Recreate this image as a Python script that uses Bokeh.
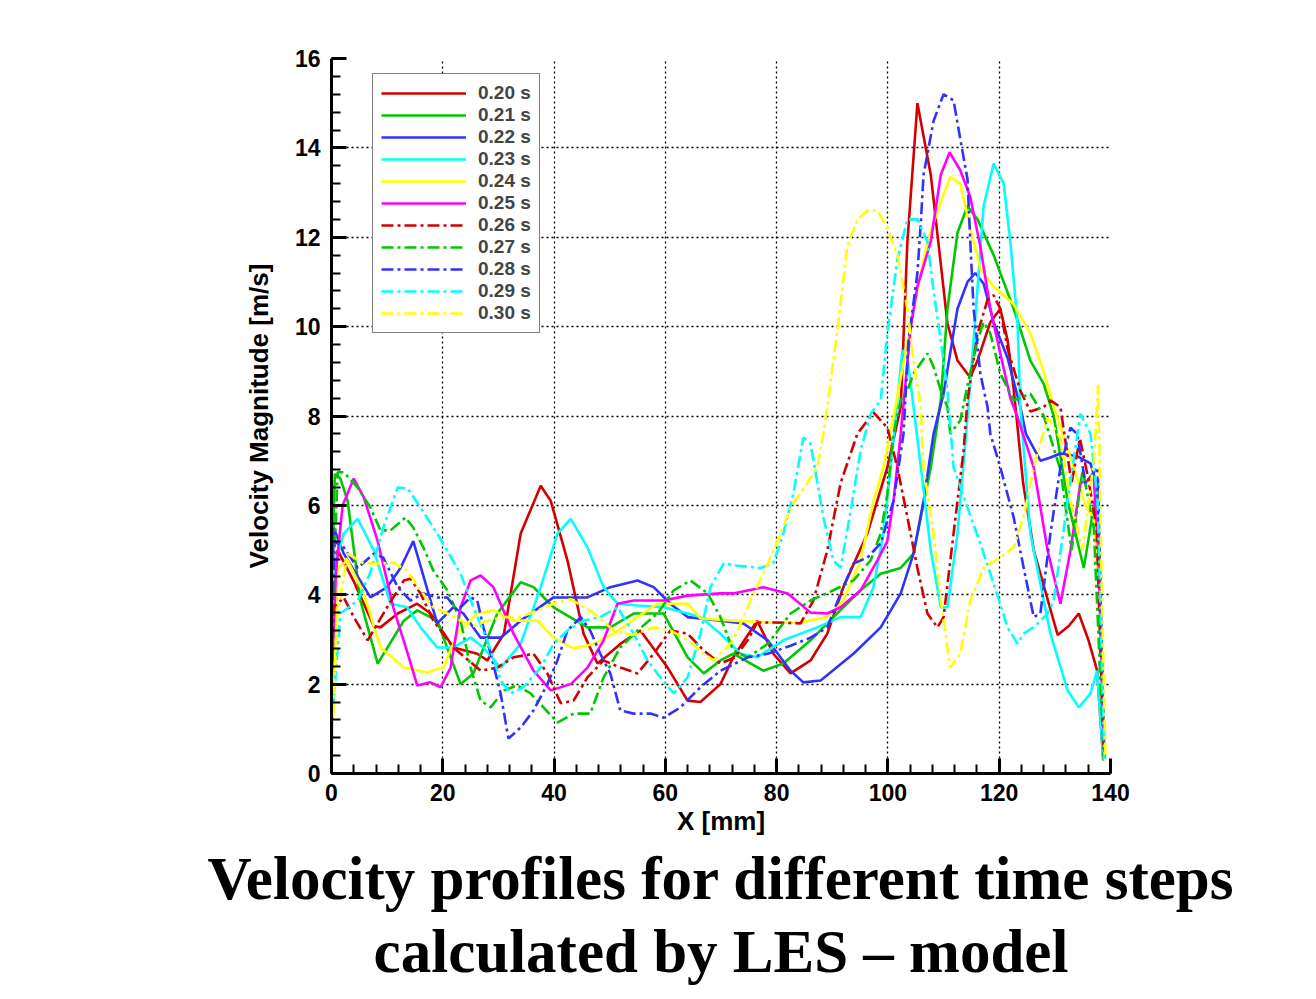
from bokeh.plotting import figure
from bokeh.models import Range1d, Legend, LegendItem, Title, FixedTicker
from bokeh.embed import file_html
from bokeh.resources import INLINE

# ---- data (x [mm], velocity magnitude [m/s]) ----
labels = ["0.20 s", "0.21 s", "0.22 s", "0.23 s", "0.24 s", "0.25 s",
          "0.26 s", "0.27 s", "0.28 s", "0.29 s", "0.30 s"]

t020 = [(0,3.5),(1.1,5.0),(4,4.3),(7.6,3.3),(8.8,3.27),(11.9,3.58),(15.4,3.8),(17.8,3.58),
        (21.9,2.82),(26.2,2.68),(28,2.53),(31,3.13),(34,5.37),(37.6,6.44),(39.4,6.1),(42.4,4.77),
        (45.3,3.13),(47.8,2.46),(51.9,2.9),(55.5,3.2),(60.4,2.37),(64,1.63),(66.3,1.6),(69.9,2.0),
        (72.2,2.6),(76.5,3.42),(79.4,2.68),(82.5,2.24),(86.1,2.53),(89.1,3.13),(92,4.17),(96.3,5.37),
        (99.9,6.85),(102.3,8.2),(103.5,11.9),(105.3,15.0),(107.7,13.4),(110.7,10.07),(112.5,9.24),
        (114.8,8.86),(116.1,9.24),(118.4,10.1),(120.2,10.4),(121.5,9.7),(122.6,8.6),(124.3,6.5),
        (126.2,5.0),(130.5,3.1),(132.5,3.3),(134.3,3.58),(136,3.0),(137.6,2.3),(138.7,0.3)]

t021 = [(0,4.0),(0.6,6.7),(1.6,6.6),(2.9,6.1),(5.2,3.87),(8.3,2.46),(13,3.42),(15.4,3.65),(19,3.42),
        (23.2,2.0),(25.5,2.24),(29.8,3.58),(34,4.28),(36.3,4.17),(39.9,3.72),(46,3.27),(50.1,3.27),
        (54.3,3.58),(59.7,3.58),(64,2.6),(66.9,2.24),(69.9,2.53),(72.2,2.68),(77.6,2.3),(81.2,2.46),
        (86.1,2.98),(90.2,3.5),(95.1,4.1),(98.7,4.47),(102.3,4.6),(104.6,4.92),(107.7,6.85),(109.5,8.35),
        (110.7,10.4),(112.5,12.1),(114.3,12.7),(116.1,12.4),(119,11.6),(122.6,10.4),(125.6,9.24),
        (128,8.72),(129.8,8.0),(132.3,6.1),(135.2,4.6),(137.7,6.5),(138.8,0.3)]

t022 = [(0,3.0),(0.4,5.5),(2.2,4.92),(7,3.94),(10,4.17),(12.4,4.6),(14.7,5.2),(17.8,3.87),(19,3.36),
        (21.9,3.72),(23.7,3.58),(26.8,3.04),(30.4,3.04),(34,3.42),(39.9,3.94),(46,3.94),(50.1,4.17),
        (55,4.32),(57.9,4.17),(60.9,3.8),(64,3.5),(69.9,3.42),(74,3.36),(78.4,2.98),(82.5,2.3),
        (84.8,2.04),(87.9,2.08),(93.8,2.68),(98.7,3.27),(102.3,4.03),(104.6,4.92),(106.4,6.1),
        (108.2,7.6),(110,8.5),(112.5,10.4),(114.3,11.0),(115.7,11.2),(117.2,10.96),(119,10.1),
        (121.5,9.3),(123.8,8.2),(124.8,7.6),(127.4,7.0),(129.2,7.07),(131,7.16),(134,7.1),(136.4,6.94),
        (137.7,6.4),(138.8,0.3)]

t023 = [(0,1.5),(0.4,4.6),(2.2,5.37),(4.7,5.7),(7.6,4.99),(10.6,3.8),(13.6,3.72),(16,3.27),(19,2.82),
        (21.9,2.82),(25,3.04),(27.3,2.82),(30.4,2.37),(34,2.9),(37.6,4.17),(40.6,5.37),(43,5.7),
        (46,5.06),(48.9,4.17),(51.4,3.8),(55,3.76),(59.7,3.72),(64,3.58),(66.3,3.5),(69.9,3.13),
        (73.5,2.68),(76.5,2.6),(81.2,2.98),(87.3,3.27),(91.5,3.5),(95.1,3.5),(97.4,4.17),(99.2,5.37),
        (100.5,6.85),(101.7,8.35),(102.6,9.47),(103.5,9.3),(105.3,7.5),(107.7,4.99),(109.5,3.72),
        (110.7,3.72),(112.5,5.37),(114.3,7.97),(115.4,9.69),(117.2,12.7),(119,13.65),(120.8,13.2),
        (122,11.9),(123.3,10.07),(123.8,8.2),(125.6,5.37),(129.2,3.13),(132.3,1.86),(134.3,1.48),
        (136.4,1.79),(137.6,2.3),(138.7,0.3)]

t024 = [(0,0.3),(1.1,4.6),(2.9,4.77),(5.8,4.03),(8.8,2.82),(13,2.37),(17.2,2.26),(20.1,2.37),
        (22.6,3.13),(26.2,3.58),(29.1,3.65),(32.7,3.42),(37,3.42),(39.9,3.04),(43.5,2.8),(47.1,2.9),
        (50.7,3.13),(55,3.5),(58.6,3.8),(64,3.8),(66.3,3.47),(72.2,3.42),(78.4,3.38),(84.3,3.38),
        (89.1,3.5),(92,3.87),(95.1,4.77),(97.4,6.1),(99.2,6.85),(101,7.97),(104.1,10.07),(107.1,11.9),
        (109.5,12.8),(111.2,13.35),(113,13.2),(114.8,12.2),(116.6,11.3),(119,10.9),(122.6,10.5),
        (125.6,9.85),(128,9.0),(129.8,8.2),(133,7.0),(135.5,6.0),(137,5.7),(138,4.0),(139,0.3)]

t025 = [(0,2.0),(0.8,4.5),(2,6.0),(4,6.6),(5.8,6.18),(8.3,5.2),(11.1,3.72),(13.7,2.68),(15.4,1.97),
        (17.8,2.04),(19.6,1.93),(21.4,2.37),(23.2,3.72),(25,4.32),(26.8,4.43),(29.1,4.17),(32.7,3.13),
        (36.3,2.3),(39.4,1.86),(43,2.0),(46,2.37),(48.9,2.98),(51.4,3.8),(54.3,3.87),(59.7,3.87),
        (64,3.98),(69.9,4.03),(72.2,4.03),(77.6,4.17),(82,4.03),(86.1,3.6),(89.1,3.58),(91.5,3.72),
        (95.1,4.1),(98.1,4.77),(99.9,5.2),(101,6.1),(102.3,7.6),(104.1,9.98),(105.3,10.9),(107.7,11.9),
        (109.5,13.4),(111.1,13.9),(113,13.5),(114.8,12.9),(116.6,11.8),(118.4,10.4),(120.2,9.4),
        (122,8.4),(123.3,7.97),(126.2,6.85),(128.7,4.99),(131,3.8),(132.8,4.99),(134.6,6.5),(137,6.6),
        (137.8,5.0),(138.9,0.3)]

t026 = [(0,2.0),(0.4,3.72),(2.2,3.94),(4,3.5),(6.5,2.98),(10,3.72),(13,4.32),(14.2,4.36),(16,4.03),
        (18.3,3.42),(21.9,2.82),(26.8,2.3),(29.8,2.37),(32.7,2.6),(36.3,2.68),(38.8,2.24),(41.2,1.57),
        (43.5,1.63),(46,2.15),(48.9,2.53),(51.9,2.37),(55,2.24),(57.9,2.68),(60.9,3.2),(64,3.13),
        (66.9,2.75),(69.9,2.46),(72.5,2.6),(74.8,2.98),(76.5,3.38),(79.4,3.38),(84.3,3.36),(86.6,3.87),
        (89.1,4.99),(91.5,6.5),(94.5,7.6),(97.4,8.08),(99.9,7.74),(101.7,6.85),(103.5,5.73),(105.3,4.6),
        (107.1,3.58),(108.9,3.27),(110,3.5),(111.8,5.37),(113.6,7.23),(114.3,8.35),(116.1,9.85),
        (117.9,10.6),(119,10.7),(120.2,10.4),(121.5,9.5),(123.8,8.57),(125.6,8.1),(128,8.2),(129.2,8.35),
        (131,8.2),(133,6.5),(134.5,7.5),(136,6.6),(137.5,5.5),(138.8,0.3)]

t027 = [(0,3.0),(1.1,6.74),(2.2,6.74),(4.7,6.4),(7,5.95),(8.8,5.44),(10.6,5.44),(13.3,5.73),(14.7,5.5),
        (16.5,5.06),(18.3,4.54),(20.8,4.1),(23.2,3.42),(25,2.37),(26.8,1.63),(28.6,1.48),(31,1.86),
        (33.4,1.97),(35.8,1.79),(38.1,1.48),(40.6,1.14),(43.5,1.34),(46.5,1.34),(48.9,2.15),(51.9,2.82),
        (55,3.2),(58.6,3.58),(61.5,4.1),(64.5,4.32),(67.6,4.03),(69.9,3.5),(72.2,2.75),(74.8,2.6),
        (78.4,2.9),(82.5,3.58),(86.1,3.87),(90.2,4.1),(93.8,4.32),(96.9,4.77),(98.7,5.37),(99.9,6.26),
        (101,7.6),(102.3,8.35),(103.5,8.57),(104.6,8.95),(107.1,9.4),(108.2,9.1),(109.5,8.57),
        (110.7,8.2),(111.2,7.6),(113,7.9),(114.5,8.8),(116.1,9.69),(117.2,10.1),(118.4,9.85),
        (120.2,8.95),(122.6,8.35),(125.6,8.5),(128,8.0),(131,6.8),(133,5.0),(135,6.8),(137,5.5),
        (138.8,0.3)]

t028 = [(0,2.5),(0.5,5.2),(2.2,5.06),(4.7,4.6),(7.6,4.92),(9.3,4.83),(11.9,4.17),(14.2,3.87),
        (16.5,4.03),(19,3.94),(20.8,3.94),(22.6,3.65),(25,3.94),(26.2,3.87),(27.3,3.27),(28.6,2.68),
        (30.4,1.79),(31.8,0.78),(34,1.03),(36.3,1.41),(38.8,2.0),(40.6,2.53),(42.4,3.2),(44.8,3.5),
        (46.5,3.2),(48.3,2.68),(50.1,2.24),(51.9,1.41),(54.3,1.34),(57.3,1.34),(59.7,1.25),(62.7,1.48),
        (66.3,1.93),(69.9,2.3),(74.8,2.6),(78.4,2.68),(82.5,2.86),(86.1,3.04),(89.1,3.27),(91.5,4.03),
        (93.8,4.7),(96.3,4.83),(98.7,5.15),(101,6.1),(102.8,7.6),(103.7,9.69),(105.3,11.2),(105.9,12.3),
        (106.4,13.4),(108.2,14.6),(110,15.2),(111.8,15.06),(113,14.2),(114.3,13.3),(114.8,11.9),
        (115.4,10.4),(116.6,8.95),(117.9,8.2),(118.4,7.6),(120.2,6.85),(122.6,5.73),(124.4,4.6),
        (126.2,3.5),(127.4,3.58),(129.2,5.37),(131,6.85),(132.8,7.74),(134,7.6),(135.5,6.5),
        (137.7,6.85),(138.9,0.3)]

t029 = [(0,1.0),(1.6,3.58),(4.7,3.87),(7,4.5),(9.3,5.5),(11.9,6.4),(13.7,6.38),(16,5.95),(19,5.37),
        (23.2,4.47),(25.5,3.72),(28,2.98),(30.4,2.08),(32.2,1.79),(34.5,1.93),(37.6,2.37),(39.9,2.9),
        (42.4,3.2),(45.3,3.42),(48.3,3.5),(51.4,3.72),(54.3,3.13),(56.8,2.53),(59.1,2.15),(61.5,1.79),
        (64,2.15),(66.3,3.13),(68.1,4.17),(70.5,4.7),(73,4.65),(77.1,4.6),(79.4,4.7),(81.2,5.37),
        (83,6.26),(84.8,7.52),(86.1,7.38),(88.4,5.73),(90.2,4.77),(91.5,4.6),(93.3,5.88),(95.1,7.23),
        (96.9,8.05),(98.7,8.35),(99.9,9.85),(101.7,11.5),(103.5,12.4),(105.3,12.4),(107.1,11.9),
        (108.2,10.8),(109.5,9.69),(110.7,8.57),(111.8,6.85),(114.3,5.95),(116.6,5.15),(119,4.25),
        (121.5,3.27),(123.3,2.9),(124.4,3.13),(126.5,3.3),(128.7,3.58),(129.8,3.87),(132.3,6.1),
        (134.6,8.05),(136.4,7.6),(137.7,6.1),(138.9,0.3)]

t030 = [(0,0.3),(1,3.5),(2.9,4.92),(5.8,4.7),(8.3,4.7),(11.1,4.72),(13.6,4.54),(16,4.1),(18.3,3.72),
        (20.8,3.58),(23.2,3.42),(25.5,3.3),(28,3.42),(31,3.5),(34,3.5),(37,3.65),(39.9,3.8),(43,3.9),
        (47,3.6),(50.7,3.2),(54,3.1),(57.9,3.27),(61,3.2),(64,2.98),(66.9,2.68),(68.7,2.53),(72.2,2.98),
        (75.3,3.87),(77.6,4.47),(80.2,5.2),(82.5,5.95),(85.5,6.5),(87.3,6.85),(88.4,7.6),(89.1,8.2),
        (90.9,9.9),(92.7,11.8),(94.5,12.4),(96.3,12.6),(98.1,12.6),(99.9,12.2),(101.7,11.6),
        (103.5,10.4),(104.6,9.24),(105.9,8.2),(106.4,6.85),(108.2,5.37),(109.5,3.87),(111.2,2.37),
        (113,2.68),(114.8,3.87),(117.2,4.6),(120.2,4.83),(122.6,5.06),(124.5,5.8),(126.2,6.85),
        (128.7,7.97),(131,7.5),(133,6.0),(135,5.0),(137,7.0),(137.8,8.7),(138.3,5.0),(139.1,0.3)]

series = [t020, t021, t022, t023, t024, t025, t026, t027, t028, t029, t030]
colors = ["#d40000", "#00c800", "#3232ff", "#00ffff", "#ffff00", "#ff00ff",
          "#d40000", "#00c800", "#3232ff", "#00ffff", "#ffff00"]
dashes = ["solid"] * 6 + ["12 4 3 4"] * 5

x_ticks = [0, 20, 40, 60, 80, 100, 120, 140]
y_ticks = [0, 2, 4, 6, 8, 10, 12, 14, 16]

p = figure(width=1316, height=999, output_backend="svg", toolbar_location=None,
           x_range=Range1d(0, 140), y_range=Range1d(0, 16),
           min_border_left=331, min_border_right=206, min_border_top=58, min_border_bottom=226)
p.outline_line_color = None
p.background_fill_color = "white"
p.border_fill_color = "white"

items = []
for s, c, d, lab in zip(series, colors, dashes, labels):
    xs = [pt[0] for pt in s]
    ys = [pt[1] for pt in s]
    r = p.line(xs, ys, line_color=c, line_width=2.6, line_dash=d)
    items.append(LegendItem(label=lab, renderers=[r]))

# axes
for ax in (p.xaxis[0], p.yaxis[0]):
    ax.axis_line_width = 3
    ax.axis_line_color = "black"
    ax.major_tick_in = 15
    ax.major_tick_out = 0
    ax.minor_tick_in = 9
    ax.minor_tick_out = 0
    ax.major_tick_line_width = 3
    ax.minor_tick_line_width = 2
    ax.major_label_text_font = "Liberation Sans"
    ax.major_label_text_font_style = "bold"
    ax.major_label_text_font_size = "23px"
    ax.major_label_text_color = "black"
    ax.axis_label_text_font = "Liberation Sans"
    ax.axis_label_text_font_style = "bold"
    ax.axis_label_text_font_size = "26px"
    ax.axis_label_text_color = "black"

p.xaxis.ticker = FixedTicker(ticks=x_ticks, minor_ticks=list(range(0, 141, 4)))
p.yaxis.ticker = FixedTicker(ticks=y_ticks, minor_ticks=[i * 0.4 for i in range(41)])
p.xaxis.axis_label = "X [mm]"
p.yaxis.axis_label = "Velocity Magnitude [m/s]"
p.xaxis.major_label_standoff = 10
p.xaxis.axis_label_standoff = 2
p.yaxis.major_label_standoff = 11
p.yaxis.axis_label_standoff = 18

p.grid.grid_line_color = "black"
p.grid.grid_line_dash = "2 3"
p.grid.grid_line_width = 1.3
p.xgrid.ticker = FixedTicker(ticks=x_ticks)
p.ygrid.ticker = FixedTicker(ticks=y_ticks)

legend = Legend(items=items, location=(41, 440))
legend.border_line_color = "black"
legend.border_line_width = 1.5
legend.background_fill_color = "white"
legend.background_fill_alpha = 1
legend.label_text_font = "Liberation Sans"
legend.label_text_font_style = "bold"
legend.label_text_font_size = "19px"
legend.glyph_width = 85
legend.glyph_height = 22
legend.label_height = 22
legend.spacing = 0
legend.padding = 8
legend.margin = 0
legend.label_standoff = 12
p.add_layout(legend)

t1 = Title(text="Velocity profiles for different time steps", align="center",
           text_font="Liberation Serif", text_font_style="bold", text_font_size="61px",
           text_color="black", standoff=8)
t2 = Title(text="calculated by LES \u2013 model", align="center",
           text_font="Liberation Serif", text_font_style="bold", text_font_size="61px",
           text_color="black", standoff=0)
p.add_layout(t1, "below")
p.add_layout(t2, "below")

open("out.html", "w").write(file_html(p, INLINE))
